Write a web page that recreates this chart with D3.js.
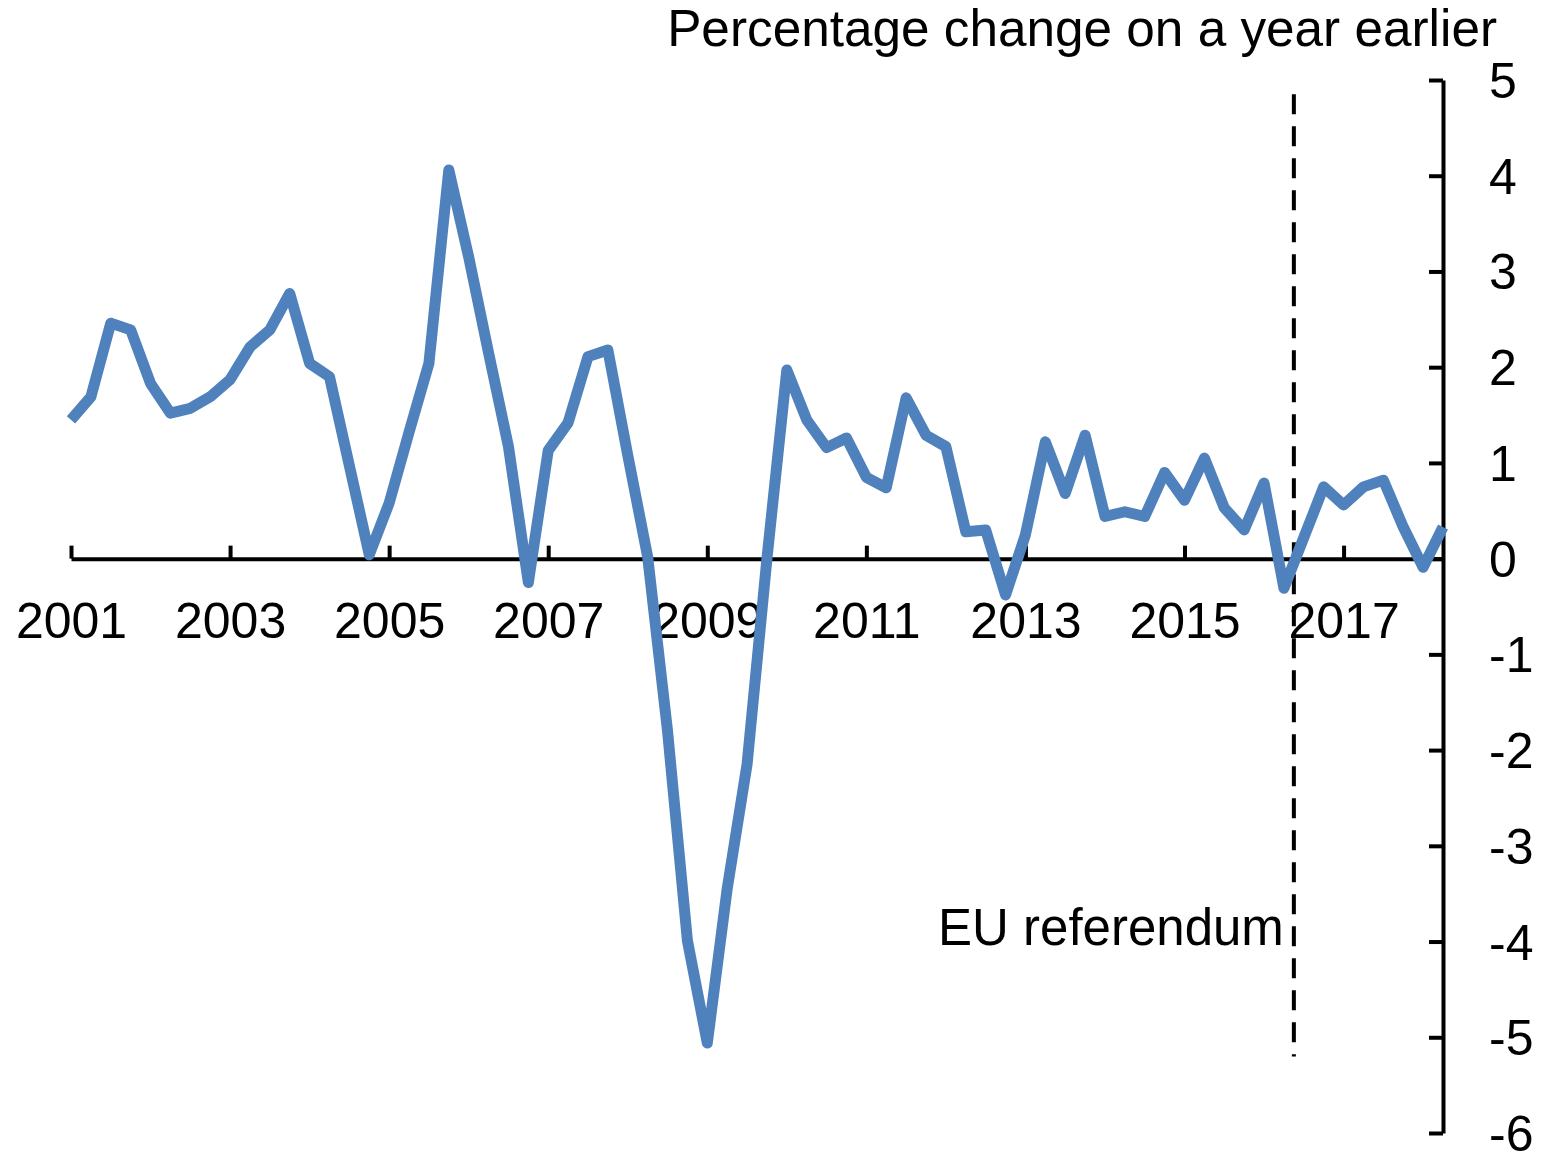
<!DOCTYPE html>
<html>
<head>
<meta charset="utf-8">
<script src="https://cdn.jsdelivr.net/npm/d3@7"></script>
<style>
	body { margin: 0; background: #fff; }
	text { font-family: "Liberation Sans", Arial, sans-serif; fill: #000; }
</style>
</head>
<body>
<div id="chart"></div>
<script>
// quarterly growth, 2001 Q1 .. 2018 Q2
var growth = [
	1.45, 1.69, 2.46, 2.39,   // 2001
	1.83, 1.52, 1.57, 1.69,   // 2002
	1.87, 2.21, 2.39, 2.77,   // 2003
	2.04, 1.90, 0.97, 0.04,   // 2004
	0.58, 1.32, 2.04, 4.06,   // 2005
	3.15, 2.15, 1.17, -0.25,  // 2006
	1.13, 1.42, 2.11, 2.18,   // 2007
	1.08, 0.02, -1.80, -3.99, // 2008
	-5.06, -3.45, -2.15, 0.00,// 2009
	1.97, 1.45, 1.16, 1.26,   // 2010
	0.85, 0.74, 1.68, 1.29,   // 2011
	1.17, 0.28, 0.30, -0.38,  // 2012
	0.25, 1.22, 0.68, 1.29,   // 2013
	0.44, 0.49, 0.44, 0.90,   // 2014
	0.61, 1.05, 0.53, 0.30,   // 2015
	0.79, -0.31, 0.22, 0.75,  // 2016
	0.56, 0.75, 0.82, 0.33,   // 2017
	-0.09, 0.33               // 2018
];
var yearLabels = ["2001", "2003", "2005", "2007", "2009", "2011", "2013", "2015", "2017"];
var yearTicks = [0, 8, 16, 24, 32, 40, 48, 56, 64];   // quarter index of each label
var yTicks = [-6, -5, -4, -3, -2, -1, 0, 1, 2, 3, 4, 5];
var referendumAt = 61.5;   // between 2016 Q2 and Q3
var referendumSpan = [4.85, -5.2];
var titleText = "Percentage change on a year earlier";
var refLabel = "EU referendum";

function drawChart() {
	var width = 1547,
		height = 1153,
		plotLeft = 71,
		plotRight = 1443,
		plotTop = 80,
		plotBottom = 1133;

	var svg = d3.select("#chart").append("svg")
		.attr("width", width)
		.attr("height", height);

	var x = d3.scaleLinear().domain([0, growth.length - 1]).range([plotLeft, plotRight]);
	var y = d3.scaleLinear().domain([-6, 5]).range([plotBottom, plotTop]);

	// x axis sits on zero
	var xAxis = d3.axisBottom(x)
		.tickValues(yearTicks)
		.tickFormat(function(d, i) { return yearLabels[i]; })
		.tickSizeInner(-13)
		.tickSizeOuter(0)
		.tickPadding(44);

	var gx = svg.append("g")
		.attr("transform", "translate(0," + y(0) + ")")
		.call(xAxis);
	gx.select(".domain").attr("stroke", "#000").attr("stroke-width", 4);
	gx.selectAll(".tick line").attr("stroke", "#000").attr("stroke-width", 4);
	gx.selectAll(".tick text").style("font-size", "50px").attr("font-family", null);

	// y axis on the right, ticks pointing in, plain hyphen for negatives
	var yAxis = d3.axisRight(y)
		.tickValues(yTicks)
		.tickFormat(function(d) { return String(d); })
		.tickSizeInner(-14)
		.tickSizeOuter(0)
		.tickPadding(46);

	var gy = svg.append("g")
		.attr("transform", "translate(" + plotRight + ",0)")
		.call(yAxis);
	gy.select(".domain").attr("stroke", "#000").attr("stroke-width", 4);
	gy.selectAll(".tick line").attr("stroke", "#000").attr("stroke-width", 4);
	gy.selectAll(".tick text").style("font-size", "50px").attr("dy", "0.35em").attr("font-family", null);

	// referendum marker
	svg.append("line")
		.attr("x1", x(referendumAt)).attr("x2", x(referendumAt))
		.attr("y1", y(referendumSpan[0])).attr("y2", y(referendumSpan[1]))
		.attr("stroke", "#000")
		.attr("stroke-width", 4)
		.attr("stroke-dasharray", "20,12");

	svg.append("text")
		.attr("x", x(referendumAt) - 10)
		.attr("y", 945)
		.attr("text-anchor", "end")
		.style("font-size", "51px")
		.text(refLabel);

	var line = d3.line()
		.x(function(d, i) { return x(i); })
		.y(function(d) { return y(d); });

	svg.append("path")
		.datum(growth)
		.attr("d", line)
		.attr("fill", "none")
		.attr("stroke", "#4F81BD")
		.attr("stroke-width", 11)
		.attr("stroke-linejoin", "round");

	svg.append("text")
		.attr("x", 1497)
		.attr("y", 46)
		.attr("text-anchor", "end")
		.style("font-size", "51.3px")
		.text(titleText);
}

drawChart();
</script>
</body>
</html>
